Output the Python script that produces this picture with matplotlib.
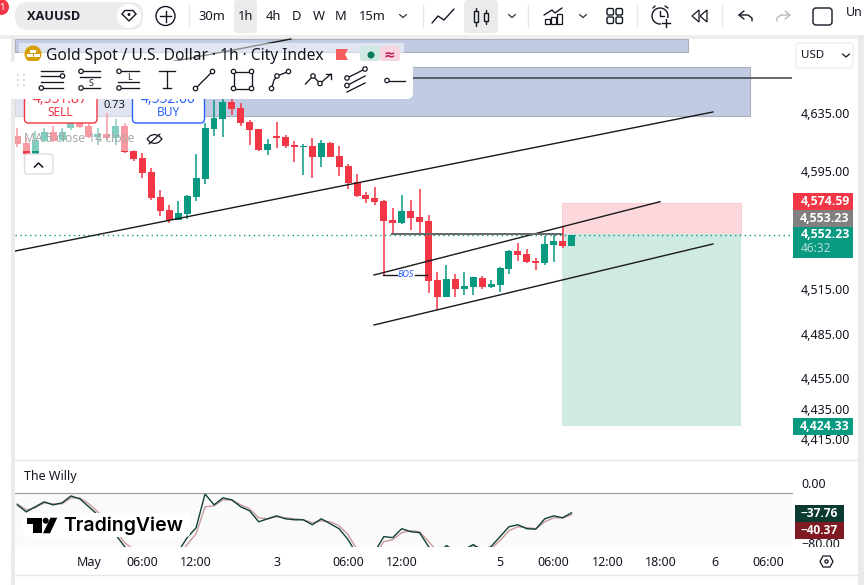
import matplotlib
matplotlib.use('Agg')
from matplotlib import pyplot as plt
from matplotlib.patches import Rectangle, FancyBboxPatch, Circle, Polygon
from matplotlib.transforms import ScaledTranslation

plt.rcParams['font.family'] = ['Noto Sans', 'DejaVu Sans']

W, H = 864, 585
UP = '#089981'
DOWN = '#f23645'
INK = '#131722'

# hourly candles, oldest first
opens = [4620.3, 4615.4, 4607.9, 4616.8, 4623.0, 4617.5, 4625.8, 4629.2, 4627.1, 4619.6, 4621.6, 4618.9, 4627.1,
         4609.9, 4605.1, 4595.5, 4578.4, 4569.5, 4562.7, 4566.8, 4578.4, 4590.7, 4625.1, 4632.0, 4643.8, 4639.7,
         4629.9, 4625.1, 4610.6, 4620.3, 4619.6, 4614.1, 4612.7, 4613.4, 4605.8, 4615.4, 4606.5, 4599.6, 4588.6,
         4579.7, 4577.7, 4575.6, 4562.7, 4560.6, 4568.8, 4564.7, 4562.0, 4522.0, 4510.6, 4522.7, 4516.0, 4517.3,
         4523.4, 4517.3, 4518.6, 4529.5, 4541.6, 4539.6, 4534.8, 4533.4, 4545.7, 4548.4, 4545.0]
highs = [4625.8, 4619.6, 4623.7, 4625.8, 4627.1, 4625.8, 4632.7, 4632.7, 4629.9, 4625.8, 4636.2, 4632.0, 4629.2,
         4610.6, 4608.6, 4598.3, 4583.2, 4572.9, 4575.6, 4579.7, 4607.9, 4629.2, 4645.2, 4646.6, 4647.3, 4643.1,
         4631.3, 4625.1, 4618.2, 4629.9, 4620.9, 4616.8, 4614.8, 4618.9, 4617.5, 4616.1, 4613.4, 4601.0, 4594.1,
         4581.8, 4585.2, 4576.3, 4570.9, 4579.7, 4576.3, 4583.9, 4566.1, 4527.4, 4532.1, 4526.1, 4527.4, 4524.1,
         4524.7, 4522.0, 4530.8, 4542.3, 4547.0, 4543.0, 4536.9, 4551.8, 4552.5, 4558.6, 4552.23]
lows = [4612.7, 4606.5, 4607.2, 4616.1, 4616.1, 4616.8, 4624.4, 4625.8, 4618.9, 4614.1, 4617.5, 4614.1, 4608.6,
        4603.1, 4591.4, 4576.3, 4565.4, 4560.6, 4562.7, 4563.4, 4575.6, 4587.3, 4620.3, 4619.6, 4634.8, 4627.1,
        4614.1, 4609.9, 4607.2, 4612.0, 4612.0, 4602.4, 4593.4, 4591.4, 4599.0, 4605.8, 4592.8, 4583.9, 4578.4,
        4574.2, 4572.9, 4525.4, 4552.5, 4560.0, 4555.9, 4553.8, 4513.3, 4501.8, 4510.6, 4510.6, 4511.9, 4511.9,
        4516.0, 4516.6, 4513.9, 4526.1, 4534.8, 4533.4, 4528.8, 4532.1, 4534.1, 4543.7, 4545.0]
closes = [4614.8, 4607.9, 4617.5, 4623.0, 4616.8, 4623.0, 4629.2, 4626.4, 4619.6, 4621.6, 4618.9, 4627.1, 4609.3,
          4604.5, 4594.8, 4577.7, 4568.8, 4562.7, 4567.4, 4579.0, 4591.4, 4625.8, 4632.7, 4643.8, 4639.0, 4629.2,
          4624.4, 4610.6, 4614.8, 4618.9, 4613.4, 4612.7, 4613.4, 4605.8, 4615.4, 4605.8, 4599.0, 4588.0, 4579.0,
          4577.0, 4574.9, 4562.0, 4560.6, 4568.8, 4564.1, 4561.3, 4521.3, 4510.6, 4522.7, 4516.0, 4518.0, 4524.1,
          4517.3, 4519.3, 4530.1, 4541.6, 4538.9, 4534.1, 4533.4, 4546.4, 4548.4, 4545.0, 4552.23]

# The Willy oscillator, fast and slow lines
willy_fast = [-27.3, -36.5, -29.9, -23.4, -27.3, -24.7, -15.6, -19.5, -29.9, -40.4, -50.8, -66.4, -82.0, -92.4,
              -105.5, -112.0, -112.0, -99.0, -88.5, -70.3, -57.3, -13.0, -27.3, -18.2, -20.8, -29.9, -35.2, -49.5,
              -45.6, -41.7, -45.6, -46.9, -46.9, -53.4, -45.6, -52.1, -58.6, -72.9, -92.4, -105.5, -88.5, -69.0,
              -70.3, -58.6, -62.5, -63.8, -82.0, -92.4, -80.7, -88.5, -85.9, -79.4, -87.2, -82.0, -69.0, -56.0,
              -53.4, -58.6, -59.2, -45.6, -41.7, -44.3, -37.76]
willy_slow = [-26.0, -33.9, -31.2, -24.7, -26.0, -26.0, -18.2, -18.2, -26.0, -36.5, -48.2, -61.2, -76.8, -85.9,
              -99.0, -108.0, -112.0, -102.9, -93.7, -79.4, -65.1, -29.9, -28.6, -20.8, -20.8, -27.3, -32.6, -44.3,
              -45.6, -43.0, -44.3, -45.6, -46.9, -50.8, -48.2, -49.5, -54.7, -66.4, -85.9, -99.0, -93.7, -75.5,
              -72.9, -63.8, -61.2, -62.5, -75.5, -88.5, -83.3, -85.9, -85.9, -80.7, -84.6, -84.6, -74.2, -61.2,
              -56.0, -57.3, -58.6, -49.5, -44.3, -44.3, -40.37]

price_ticks = [4635, 4595, 4515, 4485, 4455, 4435, 4415]
time_ticks = [8, 14, 20, 29, 37, 43, 54, 60, 66, 72, 78, 84]
time_labels = ['May', '06:00', '12:00', '3', '06:00', '12:00', '5', '06:00', '12:00', '18:00', '6', '06:00']

# drawings on the chart: (bar, price) end points
trend_main = ([-0.26, 77.82], [4541.6, 4636.9])
trend_top = ([17.08, 30.6], [4671.6, 4687.7])
channel_up = ([39.9, 71.9], [4525.4, 4575.2])
channel_low = ([39.9, 77.82], [4491.74, 4546.4])
level_high = ([30.0, 86.66], [4660.7, 4660.7])
level_entry = ([41.9, 60.93], [4553.23, 4553.23])
bos_left = ([40.9, 42.5], [4525.6, 4525.6])
bos_right = ([44.5, 45.8], [4525.6, 4525.6])
zone_top = (-0.26, 75.0, 4678.9, 4687.9)
zone_mid = (-0.26, 81.96, 4634.4, 4668.1)
pos_bars = (60.93, 80.95)
pos_stop, pos_entry, pos_target = 4574.59, 4553.23, 4424.33
last_price = 4552.23


def box(x0, y0, x1, y1):
    return [x0 / W, 1 - y1 / H, (x1 - x0) / W, (y1 - y0) / H]


fig = plt.figure(figsize=(W / 100, H / 100), dpi=100, facecolor='white')

# page furniture behind the chart
bg = fig.add_axes([0, 0, 1, 1], zorder=0)
bg.set_xlim(0, W)
bg.set_ylim(H, 0)
bg.axis('off')
bg.add_patch(Rectangle((0, 35), W, 4, color='#eeeeee', lw=0))
bg.add_patch(Rectangle((11, 35), 4, H - 35, color='#eaeaea', lw=0))
bg.add_patch(Rectangle((858, 35), 6, H - 35, color='#eaeaea', lw=0))
bg.plot([15, 858], [460, 460], color='#e6e6e6', lw=1)
bg.plot([15, 858], [575, 575], color='#e6e6e6', lw=1)
bg.add_patch(Rectangle((15, 493), 777, 54, color='#fafafa', lw=0))

# price panel
ax = fig.add_axes(box(15, 38, 792, 460), zorder=2)
ax.patch.set_visible(False)
ax.set_yscale('log')
ax.set_xlim(-0.26, 86.66)
ax.set_ylim(4402.1, 4688.4)
for s in ax.spines.values():
    s.set_visible(False)

for z in (zone_top, zone_mid):
    ax.add_patch(Rectangle((z[0], z[2]), z[1] - z[0], z[3] - z[2], facecolor='#c1cbe4', edgecolor='#a9afbd', lw=0.8, zorder=1))
ax.add_patch(Rectangle((pos_bars[0], pos_entry), pos_bars[1] - pos_bars[0], pos_stop - pos_entry, facecolor='#fcd8dc', edgecolor='#fbc4ca', lw=0.6, zorder=1))
ax.add_patch(Rectangle((pos_bars[0], pos_target), pos_bars[1] - pos_bars[0], pos_entry - pos_target, facecolor='#cfe9e3', edgecolor='none', zorder=1))

idx = list(range(len(opens)))
colors = [UP if c >= o else DOWN for o, c in zip(opens, closes)]
ax.vlines(idx, lows, highs, colors=colors, lw=1.1, zorder=3)
body_low = [min(o, c) for o, c in zip(opens, closes)]
body_size = [abs(c - o) for o, c in zip(opens, closes)]
ax.bar(idx, body_size, bottom=body_low, width=0.78, color=colors, lw=0, zorder=3)

ax.axhline(last_price, color=UP, lw=1, ls=(0, (1, 2.5)), zorder=2)
for seg in (trend_main, trend_top, channel_up, channel_low):
    ax.plot(seg[0], seg[1], color='#1a1a1a', lw=1.0, zorder=4)
ax.plot(level_high[0], level_high[1], color='#3c3f48', lw=1.1, zorder=4, solid_capstyle='butt')
ax.plot(level_entry[0], level_entry[1], color='#666666', lw=1.4, zorder=4)
ax.plot(bos_left[0], bos_left[1], color='#1a1a1a', lw=1, zorder=4)
ax.plot(bos_right[0], bos_right[1], color='#1a1a1a', lw=1, zorder=4)
ax.text(43.5, 4525.6, 'BOS', color='#2962ff', fontsize=6.5, style='italic', ha='center', va='center', zorder=4)

ax.yaxis.tick_right()
ax.minorticks_off()
ax.set_yticks(price_ticks)
ax.set_yticklabels(['{:,.2f}'.format(p) for p in price_ticks])
ax.set_xticks([])
ax.tick_params(axis='y', length=0, pad=6.5, labelsize=9, labelcolor=INK)
ax.minorticks_off()
# price labels sit a little above their level
lift = ScaledTranslation(0, 1.5 / 100, fig.dpi_scale_trans)
for t in ax.get_yticklabels():
    t.set_transform(t.get_transform() + lift)

# oscillator panel
osc = fig.add_axes(box(15, 492.5, 792, 547), zorder=2)
osc.patch.set_visible(False)
osc.set_xlim(-0.26, 86.66)
osc.set_ylim(-82.6, -11.1)
for k, s in osc.spines.items():
    s.set_visible(k == 'top')
osc.spines['top'].set_color('#999999')
osc.plot(idx, willy_slow, color='#c99a9a', lw=1)
osc.plot(idx, willy_fast, color='#0e4034', lw=1)
osc.set_yticks([])
osc.set_xticks(time_ticks)
osc.set_xticklabels(time_labels)
osc.tick_params(axis='x', length=0, pad=6.5, labelsize=9, labelcolor=INK)
osc.get_xticklabels()[0].set_fontweight('semibold')

# overlays: legend, toolbar, price tags
ui = fig.add_axes([0, 0, 1, 1], zorder=5)
ui.patch.set_visible(False)
ui.set_xlim(0, W)
ui.set_ylim(H, 0)
ui.axis('off')


def line(xs, ys, c=INK, lw=1.0):
    ui.plot(xs, ys, color=c, lw=lw, solid_capstyle='round', zorder=6)


def ring(x, y, r=2.2, c=INK):
    ui.add_patch(Circle((x, y), r, facecolor='white', edgecolor=c, lw=0.9, zorder=6))


def rbox(x0, y0, x1, y1, r=3, fc='white', ec='none', lw=1.0, z=3):
    ui.add_patch(FancyBboxPatch((x0 + r, y0 + r), x1 - x0 - 2 * r, y1 - y0 - 2 * r,
                                boxstyle='round,pad=%g,rounding_size=%g' % (r, r), facecolor=fc, edgecolor=ec, lw=lw, zorder=z))


def label(x, y, s, size=9, c=INK, ha='center', z=7, **kw):
    ui.text(x, y, s, fontsize=size, color=c, ha=ha, va='center', zorder=z, **kw)


def chevron(x, y, c='#333333'):
    line([x - 3.5, x, x + 3.5], [y - 1.5, y + 1.5, y - 1.5], c, 0.9)


# white veils that legend rows leave on the chart
ui.add_patch(Rectangle((19, 43), 385, 18, color='white', alpha=0.5, lw=0))
ui.add_patch(Rectangle((15, 90), 190, 33, color='white', alpha=0.5, lw=0))
ui.add_patch(Rectangle((15, 123), 120, 28, color='white', alpha=0.5, lw=0))

# legend
ui.add_patch(Circle((33, 54), 8.5, color='#d9a005', lw=0, zorder=4))
ui.add_patch(Rectangle((30, 50), 6, 3, color='white', lw=0, zorder=5))
ui.add_patch(Rectangle((26.5, 54), 6, 3, color='white', lw=0, zorder=5))
ui.add_patch(Rectangle((33.5, 54), 6, 3, color='white', lw=0, zorder=5))
label(46, 55.5, 'Gold Spot / U.S. Dollar \u00b7 1h \u00b7 City Index', size=11.2, ha='left')
ui.add_patch(Polygon([(336, 49), (348, 49), (345, 54.5), (348, 60), (336, 60)], color='#f75c5c', lw=0, zorder=4))
rbox(360, 46, 380, 63, r=6, fc='#cfe8e2', z=4)
rbox(380, 46, 400, 63, r=6, fc='#f9d5e0', z=4)
ui.add_patch(Circle((371, 55), 3.5, color='#0b7a5c', lw=0, zorder=5))
label(389, 54.5, '\u2248', size=10, c='#c2185b', fontweight='bold')

# buy and sell buttons run up behind the toolbar
rbox(24.5, 72, 97, 123, r=4, fc='white', ec=DOWN)
rbox(132.5, 72, 204.5, 123, r=4, fc='white', ec='#2962ff')
label(60.5, 99.5, '4,551.87', size=10, c=DOWN, z=3.5)
label(60.5, 113, 'SELL', size=8.6, c=DOWN)
label(168.5, 99.5, '4,552.60', size=10, c='#2962ff', z=3.5)
label(168.5, 113, 'BUY', size=8.6, c='#2962ff')
label(114.5, 105.5, '0.73', size=8)
label(24, 139, 'MA 5 close 14 close', size=8.8, c='#a9a9a9', ha='left')
# hidden-indicator eye
ui.add_patch(Polygon([(147, 139), (150.5, 135.5), (154.5, 134.5), (158.5, 135.5), (162, 139), (158.5, 142.5), (154.5, 143.5), (150.5, 142.5)],
                     facecolor='none', edgecolor=INK, lw=0.9))
line([149, 160], [144, 134], INK, 0.9)
rbox(24.5, 154, 53, 174, r=3, fc='white', ec='#dddddd')
ui.plot([34.5, 38.5, 42.5], [167, 163, 167], color=INK, lw=1.1, zorder=6)

# floating drawing toolbar
rbox(9, 61, 413, 99, r=6, fc='white', z=4)
for gx in (18, 24):
    for gy in (75, 80, 85):
        ui.add_patch(Circle((gx, gy), 1, color='#d5d5d5', lw=0, zorder=5))
tool_lines = [
    ([41, 63], [70.7, 70.7]), ([41, 61], [76, 76]), ([41, 63], [81.7, 81.7]), ([43, 63], [88, 88]),
    ([83, 100], [71.3, 71.3]), ([80, 100], [76.5, 76.5]), ([83, 100], [88, 88]),
    ([121, 139], [71.3, 71.3]), ([118, 139], [82, 82]), ([121, 139], [88, 88]),
    ([167, 167], [71, 88]), ([159, 175], [71, 71]), ([163, 171], [88, 88]),
    ([195.5, 212.5], [88.5, 71.5]),
    ([233.5, 251.5], [71.5, 71.5]), ([233.5, 251.5], [88.5, 88.5]), ([233.5, 233.5], [71.5, 88.5]), ([251.5, 251.5], [71.5, 88.5]),
    ([271.5, 274, 277, 288.5], [88.5, 80, 76, 71.5]),
    ([305.5, 313, 320, 331], [84, 76, 83.5, 74]), ([326, 331, 331], [74, 74, 79]),
    ([347, 365], [78, 69]), ([347, 365], [85.5, 76]), ([347, 365], [92, 83]),
    ([387, 405], [80.5, 80.5]),
]
for xs, ys in tool_lines:
    ui.plot(xs, ys, color=INK, lw=0.95, zorder=5)
tool_rings = [(62.5, 76), (41.3, 88), (81, 71.3), (81, 88), (119, 71.3), (119, 88), (195.5, 88.5), (212.5, 71.5),
              (233.5, 71.5), (251.5, 71.5), (233.5, 88.5), (251.5, 88.5), (271.5, 88.5), (277, 76), (288.5, 71.5),
              (313, 76), (320, 83.5), (347, 78), (365, 69), (347, 85.5), (387, 80.5)]
for rx, ry in tool_rings:
    ring(rx, ry)
label(91, 83, 'S', size=6.5, fontweight='bold')
label(129, 77, 'L', size=6.5, fontweight='bold')

# USD selector
rbox(796, 43, 853, 68, r=3, fc='white', ec='#eeeeee')
label(801, 55.5, 'USD', size=8.3, ha='left', fontweight='medium')
chevron(846, 55.5, INK)

# last price and position tags
for y0, y1, c in [(193, 210, DOWN), (210, 227, '#808080'), (227, 258, UP), (417.7, 435, UP), (505, 522, '#0a3a30'), (522, 539, '#7f1a22')]:
    x0, x1 = (793, 853) if y0 < 500 else (795, 844)
    ui.add_patch(Rectangle((x0, y0), x1 - x0, y1 - y0, color=c, lw=0, zorder=5))
for y, s in [(201.5, '4,574.59'), (218, '4,553.23'), (235, '4,552.23'), (426, '4,424.33')]:
    label(825, y, s, size=8.8, c='white', family='Open Sans', fontweight='bold')
label(801, 249, '46:32', size=8.6, c='#b2ded4', ha='left')
label(838, 513.5, '\u221237.76', size=8.6, c='white', ha='right', family='Open Sans', fontweight='bold')
label(838, 530.5, '\u221240.37', size=8.6, c='white', ha='right', family='Open Sans', fontweight='bold')
label(814, 484, '0.00', size=9)
label(821, 544.3, '\u221280.00', size=9)
ui.add_patch(Rectangle((793, 547), 60, 6, color='white', lw=0, zorder=8))

# study title and watermark
label(24, 476.5, 'The Willy', size=9, ha='left')
rbox(23, 513, 190, 537, r=4, fc='white', z=3)
ui.add_patch(Polygon([(26.7, 517.7), (41.7, 517.7), (41.7, 533.3), (33.3, 533.3), (33.3, 524), (26.7, 524)], color='black', lw=0, zorder=5))
ui.add_patch(Circle((45.7, 520.7), 3, color='black', lw=0, zorder=5))
ui.add_patch(Polygon([(50.5, 517.7), (57.3, 517.7), (50, 533.3), (43, 533.3)], color='black', lw=0, zorder=5))
label(63, 525.5, 'TradingView', size=14, c='black', ha='left', family='Inter', fontweight='semibold')

# settings hexagon in the time scale
ui.add_patch(Polygon([(820, 561.5), (823, 556), (830, 556), (833, 561.5), (830, 567), (823, 567)], facecolor='white', edgecolor=INK, lw=0.9, zorder=6))
ui.add_patch(Circle((826.5, 561.5), 1.6, facecolor='none', edgecolor=INK, lw=0.9, zorder=6))

# top toolbar
ui.add_patch(Circle((1, 7), 8, color=DOWN, lw=0))
label(2, 7, '1', size=7, c='white', fontweight='bold')
rbox(15, 2, 143, 30, r=13, fc='#ececec', z=3)
ui.add_patch(Circle((129, 16), 12, color='white', lw=0, zorder=4))
ui.add_patch(Polygon([(122, 14), (125, 10.5), (133, 10.5), (136, 14), (129, 21)], facecolor='white', edgecolor=INK, lw=1, zorder=5))
ui.add_patch(Circle((129, 14.5), 1.5, color=INK, lw=0, zorder=6))
label(27, 16, 'XAUUSD', size=9.2, ha='left', family='Open Sans', fontweight='bold')
ui.add_patch(Circle((165.5, 16), 9.5, facecolor='white', edgecolor=INK, lw=1, zorder=4))
ui.plot([160, 171], [16, 16], color=INK, lw=1, zorder=5)
ui.plot([165.5, 165.5], [10.5, 21.5], color=INK, lw=1, zorder=5)
rbox(234, 0, 257, 33, r=4, fc='#ebebeb', z=3)
rbox(464, 0, 498, 33, r=4, fc='#ebebeb', z=3)
for x, s in [(212, '30m'), (246, '1h'), (273, '4h'), (296, 'D'), (319, 'W'), (341, 'M'), (372, '15m')]:
    label(x, 16, s, size=9.3)
for x in (189, 423, 528, 637, 722):
    line([x, x], [5, 27], '#e6e6e6', 1)
for x in (403, 512, 583):
    chevron(x, 16)
# chart-type, indicator and tool icons
line([432, 438, 444, 454], [23, 16, 20, 9], INK, 1)
line([475.5, 475.5], [8, 26], INK, 1)
line([485.5, 485.5], [10, 24], INK, 1)
ui.add_patch(Rectangle((473.5, 11), 4, 11, facecolor='#ebebeb', edgecolor=INK, lw=1, zorder=7))
ui.add_patch(Rectangle((483.5, 13), 4, 8, facecolor='#ebebeb', edgecolor=INK, lw=1, zorder=7))
line([544, 552, 555, 562], [15, 10, 13, 8], INK, 1)
for x0, y0 in [(545, 19), (551, 17), (557, 14)]:
    ui.add_patch(Rectangle((x0, y0), 5, 24 - y0, facecolor='none', edgecolor=INK, lw=0.9, zorder=5))
for x0 in (607, 616):
    for y0 in (8.5, 17):
        rbox(x0, y0, x0 + 6.5, y0 + 6.5, r=1.5, fc='white', ec=INK, lw=1, z=5)
ui.add_patch(Circle((660, 16), 8, facecolor='none', edgecolor=INK, lw=1, zorder=5))
line([660, 660, 664], [11, 16, 16], INK, 1)
line([653, 655], [8, 6], INK, 1)
line([665, 668], [6, 8], INK, 1)
ui.add_patch(Rectangle((661, 18), 9, 9, color='white', lw=0, zorder=6.5))
ui.plot([662, 670], [22.5, 22.5], color=INK, lw=1, zorder=7)
ui.plot([666, 666], [18.5, 26.5], color=INK, lw=1, zorder=7)
ui.add_patch(Polygon([(699, 10), (692, 16), (699, 22)], facecolor='none', edgecolor=INK, lw=0.9, zorder=5))
ui.add_patch(Polygon([(707, 10), (700, 16), (707, 22)], facecolor='none', edgecolor=INK, lw=0.9, zorder=5))
line([744, 739, 744], [11, 15, 19], INK, 1)
line([739, 748, 752, 752], [15, 15, 18, 21], INK, 1)
line([785, 790, 785], [11, 15, 19], '#b8b8b8', 1)
line([790, 781, 777, 777], [15, 15, 18, 21], '#b8b8b8', 1)
rbox(813, 8, 832, 25, r=3, fc='white', ec=INK, lw=1)
label(846, 12, 'Un', size=9, ha='left')

fig.savefig('out.png', dpi=100)
